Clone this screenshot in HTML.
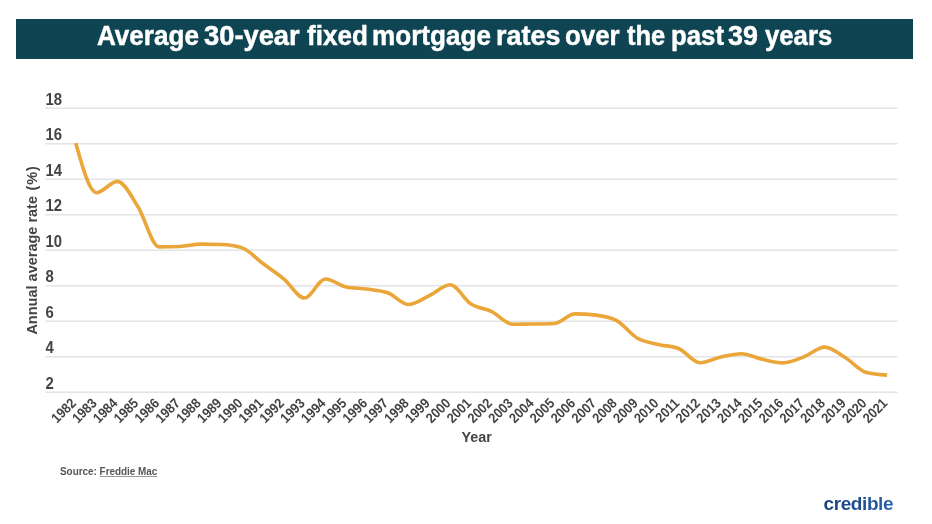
<!DOCTYPE html>
<html><head><meta charset="utf-8"><style>
html,body{margin:0;padding:0;background:#fff;width:932px;height:524px;overflow:hidden;font-family:"Liberation Sans",sans-serif;}
.bar{position:absolute;left:16px;top:19px;width:897px;height:40px;background:#0f4553;}
.title{position:absolute;left:97px;top:16.4px;height:40px;line-height:40px;color:#fff;font-weight:bold;font-size:28px;white-space:nowrap;transform-origin:0 0;-webkit-text-stroke:0.5px #fff;}
svg{position:absolute;left:0;top:0;}
#wrap{position:absolute;left:0;top:0;width:932px;height:524px;filter:blur(0.35px);}
.src{position:absolute;left:59.5px;top:465.2px;font-size:11px;line-height:13px;font-weight:bold;color:#555;white-space:nowrap;transform-origin:0 0;transform:scaleX(0.9);}
.src u{text-decoration:underline;text-decoration-color:#999;text-underline-offset:1px;}
.logo{position:absolute;left:823.5px;top:493px;font-size:19px;line-height:22px;font-weight:bold;color:#1d4d90;background:linear-gradient(90deg,#17427f 0%,#1d4d90 50%,#2a64b0 100%);-webkit-background-clip:text;background-clip:text;-webkit-text-fill-color:transparent;letter-spacing:-0.4px;white-space:nowrap;transform-origin:0 0;transform:scaleX(1.0);}
</style></head><body><div id="wrap">
<div class="bar"></div>
<div class="title" style="left:96.57px;transform:scaleX(0.9306)">Average</div><div class="title" style="left:203.82px;transform:scaleX(0.9753)">30-year</div><div class="title" style="left:306.57px;transform:scaleX(0.9302)">fixed</div><div class="title" style="left:371.74px;transform:scaleX(0.9320)">mortgage</div><div class="title" style="left:495.68px;transform:scaleX(0.9625)">rates</div><div class="title" style="left:564.88px;transform:scaleX(0.9241)">over</div><div class="title" style="left:626.70px;transform:scaleX(0.9098)">the</div><div class="title" style="left:670.76px;transform:scaleX(0.9218)">past</div><div class="title" style="left:728.34px;transform:scaleX(0.9586)">39</div><div class="title" style="left:764.60px;transform:scaleX(0.9181)">years</div>
<svg width="932" height="524" viewBox="0 0 932 524">
<g stroke="#e4e4e6" stroke-width="1.5"><line x1="45.5" x2="897.5" y1="108.20" y2="108.20"/><line x1="45.5" x2="897.5" y1="143.70" y2="143.70"/><line x1="45.5" x2="897.5" y1="179.20" y2="179.20"/><line x1="45.5" x2="897.5" y1="214.70" y2="214.70"/><line x1="45.5" x2="897.5" y1="250.20" y2="250.20"/><line x1="45.5" x2="897.5" y1="285.70" y2="285.70"/><line x1="45.5" x2="897.5" y1="321.20" y2="321.20"/><line x1="45.5" x2="897.5" y1="356.70" y2="356.70"/><line x1="45.5" x2="897.5" y1="392.20" y2="392.20"/></g>
<g fill="#444" font-family="Liberation Sans" font-weight="bold" font-size="16"><text transform="translate(45.6,104.60) scale(0.93,1)">18</text><text transform="translate(45.6,140.10) scale(0.93,1)">16</text><text transform="translate(45.6,175.60) scale(0.93,1)">14</text><text transform="translate(45.6,211.10) scale(0.93,1)">12</text><text transform="translate(45.6,246.60) scale(0.93,1)">10</text><text transform="translate(45.6,282.10) scale(0.93,1)">8</text><text transform="translate(45.6,317.60) scale(0.93,1)">6</text><text transform="translate(45.6,353.10) scale(0.93,1)">4</text><text transform="translate(45.6,388.60) scale(0.93,1)">2</text></g>
<g fill="#444" font-family="Liberation Sans" font-weight="bold" font-size="14"><text transform="translate(76.90,404) rotate(-45) scale(0.9,1)" text-anchor="end">1982</text><text transform="translate(97.71,404) rotate(-45) scale(0.9,1)" text-anchor="end">1983</text><text transform="translate(118.51,404) rotate(-45) scale(0.9,1)" text-anchor="end">1984</text><text transform="translate(139.32,404) rotate(-45) scale(0.9,1)" text-anchor="end">1985</text><text transform="translate(160.12,404) rotate(-45) scale(0.9,1)" text-anchor="end">1986</text><text transform="translate(180.93,404) rotate(-45) scale(0.9,1)" text-anchor="end">1987</text><text transform="translate(201.73,404) rotate(-45) scale(0.9,1)" text-anchor="end">1988</text><text transform="translate(222.54,404) rotate(-45) scale(0.9,1)" text-anchor="end">1989</text><text transform="translate(243.34,404) rotate(-45) scale(0.9,1)" text-anchor="end">1990</text><text transform="translate(264.15,404) rotate(-45) scale(0.9,1)" text-anchor="end">1991</text><text transform="translate(284.95,404) rotate(-45) scale(0.9,1)" text-anchor="end">1992</text><text transform="translate(305.76,404) rotate(-45) scale(0.9,1)" text-anchor="end">1993</text><text transform="translate(326.56,404) rotate(-45) scale(0.9,1)" text-anchor="end">1994</text><text transform="translate(347.37,404) rotate(-45) scale(0.9,1)" text-anchor="end">1995</text><text transform="translate(368.17,404) rotate(-45) scale(0.9,1)" text-anchor="end">1996</text><text transform="translate(388.98,404) rotate(-45) scale(0.9,1)" text-anchor="end">1997</text><text transform="translate(409.78,404) rotate(-45) scale(0.9,1)" text-anchor="end">1998</text><text transform="translate(430.59,404) rotate(-45) scale(0.9,1)" text-anchor="end">1999</text><text transform="translate(451.39,404) rotate(-45) scale(0.9,1)" text-anchor="end">2000</text><text transform="translate(472.20,404) rotate(-45) scale(0.9,1)" text-anchor="end">2001</text><text transform="translate(493.00,404) rotate(-45) scale(0.9,1)" text-anchor="end">2002</text><text transform="translate(513.81,404) rotate(-45) scale(0.9,1)" text-anchor="end">2003</text><text transform="translate(534.61,404) rotate(-45) scale(0.9,1)" text-anchor="end">2004</text><text transform="translate(555.42,404) rotate(-45) scale(0.9,1)" text-anchor="end">2005</text><text transform="translate(576.22,404) rotate(-45) scale(0.9,1)" text-anchor="end">2006</text><text transform="translate(597.03,404) rotate(-45) scale(0.9,1)" text-anchor="end">2007</text><text transform="translate(617.83,404) rotate(-45) scale(0.9,1)" text-anchor="end">2008</text><text transform="translate(638.64,404) rotate(-45) scale(0.9,1)" text-anchor="end">2009</text><text transform="translate(659.44,404) rotate(-45) scale(0.9,1)" text-anchor="end">2010</text><text transform="translate(680.25,404) rotate(-45) scale(0.9,1)" text-anchor="end">2011</text><text transform="translate(701.05,404) rotate(-45) scale(0.9,1)" text-anchor="end">2012</text><text transform="translate(721.86,404) rotate(-45) scale(0.9,1)" text-anchor="end">2013</text><text transform="translate(742.66,404) rotate(-45) scale(0.9,1)" text-anchor="end">2014</text><text transform="translate(763.47,404) rotate(-45) scale(0.9,1)" text-anchor="end">2015</text><text transform="translate(784.27,404) rotate(-45) scale(0.9,1)" text-anchor="end">2016</text><text transform="translate(805.08,404) rotate(-45) scale(0.9,1)" text-anchor="end">2017</text><text transform="translate(825.88,404) rotate(-45) scale(0.9,1)" text-anchor="end">2018</text><text transform="translate(846.69,404) rotate(-45) scale(0.9,1)" text-anchor="end">2019</text><text transform="translate(867.49,404) rotate(-45) scale(0.9,1)" text-anchor="end">2020</text><text transform="translate(888.30,404) rotate(-45) scale(0.9,1)" text-anchor="end">2021</text></g>
<text transform="translate(461.5,441.7) scale(0.93,1)" fill="#444" font-family="Liberation Sans" font-weight="bold" font-size="15.5">Year</text>
<text transform="translate(37.2,334.6) rotate(-90) scale(1.0,1)" fill="#444" font-family="Liberation Sans" font-weight="bold" font-size="14.5">Annual average rate <tspan dx="1.5" letter-spacing="0.9">(%)</tspan></text>
<path d="M75.70,142.99 C82.64,167.84 89.57,192.69 96.51,192.69 C103.44,192.69 110.38,181.33 117.31,181.33 C124.25,181.33 131.18,196.15 138.12,207.07 C145.05,217.98 151.99,246.83 158.92,246.83 C165.86,246.83 172.79,246.71 179.73,246.47 C186.66,246.24 193.60,244.16 200.53,244.16 C207.47,244.16 214.40,244.28 221.34,244.52 C228.27,244.76 235.21,245.64 242.14,247.89 C249.08,250.14 256.01,258.37 262.95,263.51 C269.88,268.66 276.82,273.04 283.75,278.78 C290.69,284.52 297.62,297.95 304.56,297.95 C311.49,297.95 318.43,278.95 325.36,278.95 C332.30,278.95 339.23,285.52 346.17,286.94 C353.10,288.36 360.04,288.10 366.97,289.07 C373.91,290.05 380.84,290.31 387.78,292.80 C394.71,295.29 401.65,304.51 408.58,304.51 C415.52,304.51 422.45,298.92 429.39,295.64 C436.32,292.36 443.26,284.81 450.19,284.81 C457.13,284.81 464.06,299.52 471.00,303.98 C477.93,308.45 484.87,308.24 491.80,311.62 C498.74,314.99 505.67,324.22 512.61,324.22 C519.54,324.22 526.48,324.16 533.41,324.04 C540.35,323.92 547.28,323.86 554.22,323.51 C561.15,323.15 568.09,313.92 575.02,313.92 C581.96,313.92 588.89,314.34 595.83,315.16 C602.76,315.99 609.70,317.00 616.63,320.67 C623.57,324.34 630.50,334.28 637.44,338.24 C644.37,342.20 651.31,342.71 658.24,344.45 C665.18,346.20 672.11,345.87 679.05,348.71 C685.98,351.55 692.92,362.74 699.85,362.74 C706.79,362.74 713.72,358.56 720.66,357.06 C727.59,355.55 734.53,353.68 741.46,353.68 C748.40,353.68 755.33,357.82 762.27,359.36 C769.20,360.90 776.14,362.91 783.07,362.91 C790.01,362.91 796.94,359.51 803.88,356.88 C810.81,354.24 817.75,347.12 824.68,347.12 C831.62,347.12 838.55,353.53 845.49,357.76 C852.42,362.00 859.36,370.72 866.29,372.50 C873.23,374.27 880.16,374.72 887.10,375.16" fill="none" stroke="#eba63a" stroke-width="3.6" stroke-linejoin="round" stroke-linecap="butt"/>
</svg>
<div class="src">Source: <u>Freddie Mac</u></div>
<div class="logo">credible</div>
</div></body></html>
